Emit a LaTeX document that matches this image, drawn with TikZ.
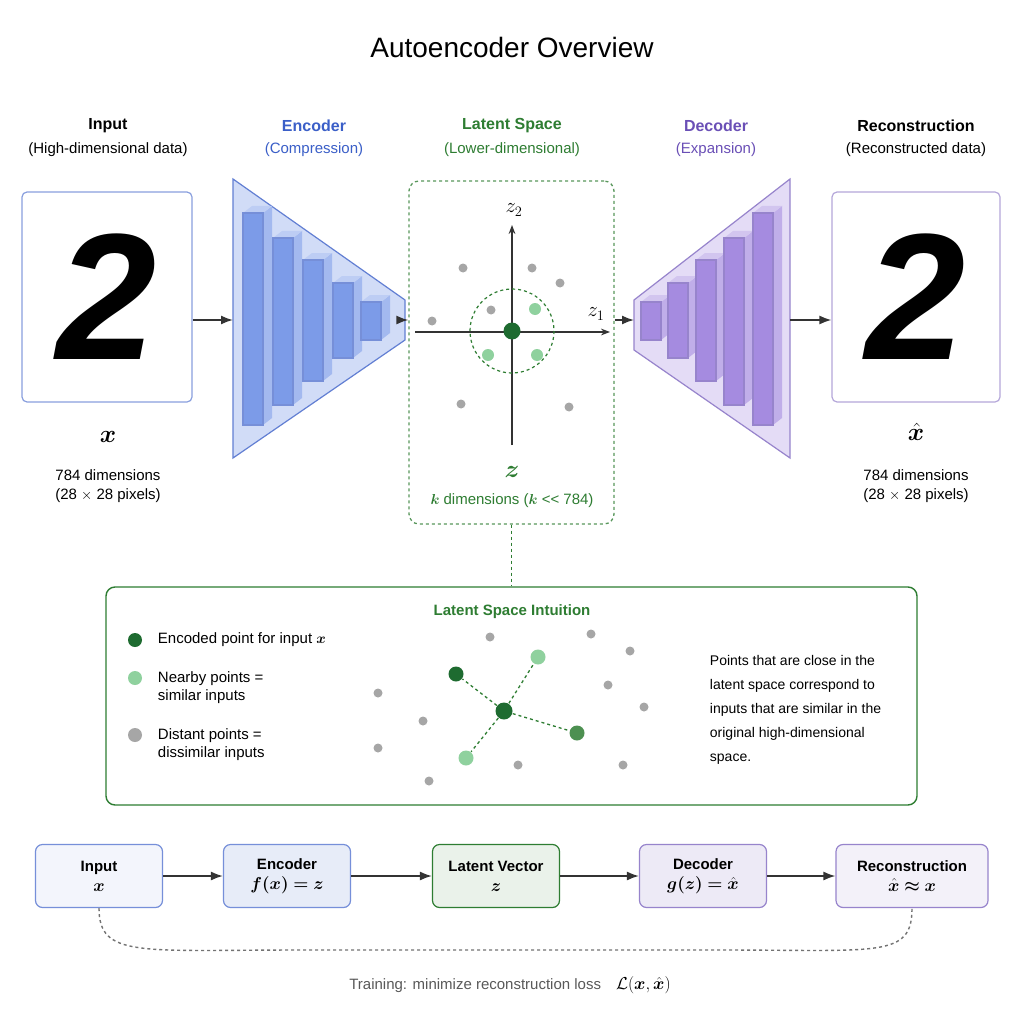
\documentclass[tikz,border=0pt]{standalone}
\usepackage{fontspec}
\setmainfont{Liberation Sans}
\usepackage{amsmath,amssymb,bm}
\usetikzlibrary{arrows.meta,positioning}
\definecolor{encblue}{HTML}{3B5FC8}
\definecolor{encfill}{HTML}{7C9BE8}
\definecolor{latgreen}{HTML}{2E7D32}
\definecolor{darkdot}{HTML}{1E6B30}
\definecolor{lightdot}{HTML}{8FD19E}
\definecolor{decpurple}{HTML}{6A4FB6}
\definecolor{decfill}{HTML}{A58BE0}
\newcommand{\mbig}{\fontsize{17}{20}\selectfont}
\tikzset{
  hdr/.style={font=\fontsize{16}{18}\selectfont\bfseries},
  sub/.style={font=\fontsize{15}{17}\selectfont},
  txt/.style={font=\fontsize{15}{19}\selectfont, align=center},
  arr/.style={-{Latex[length=12pt,width=9pt]}, line width=1.6pt, black!80},
  flowbox/.style={draw, rounded corners=7pt, minimum width=127pt, minimum height=63pt, align=center, font=\fontsize{15}{20}\selectfont, line width=1.2pt},
  dot/.style={circle, inner sep=0pt, minimum size=#1},
  dot/.default=9pt
}
\newcommand{\cube}[5]{% x, top, bottom, front colour, edge colour
  \fill[#4!70] (#1+20,#2) -- (#1+29,#2-7) -- (#1+29,#3-7) -- (#1+20,#3) -- cycle;
  \fill[#4!50] (#1,#2) -- (#1+9,#2-7) -- (#1+29,#2-7) -- (#1+20,#2) -- cycle;
  \draw[#5, fill=#4] (#1,#2) rectangle (#1+20,#3);
}
\begin{document}
\begin{tikzpicture}[x=1pt,y=-1pt,line width=1.2pt]
\useasboundingbox[fill=white] (0,0) rectangle (1024,1024);
\node at (512,47) {\fontsize{28}{30}\selectfont Autoencoder Overview};

% headers
\node[hdr] at (108,126) {Input};
\node[sub] at (108,150) {(High-dimensional data)};
\node[hdr, encblue] at (314,126) {Encoder};
\node[sub, encblue] at (314,150) {(Compression)};
\node[hdr, latgreen] at (512,126) {Latent Space};
\node[sub, latgreen] at (512,150) {(Lower-dimensional)};
\node[hdr, decpurple] at (716,126) {Decoder};
\node[sub, decpurple] at (716,150) {(Expansion)};
\node[hdr] at (916,126) {Reconstruction};
\node[sub] at (916,150) {(Reconstructed data)};

% input and output images
\node[draw=encblue!60, rounded corners=5pt, minimum width=170pt, minimum height=210pt,
  font=\fontsize{180}{180}\selectfont\bfseries\itshape] (img) at (107,297) {2};
\node[draw=decpurple!50, rounded corners=5pt, minimum width=168pt, minimum height=210pt,
  font=\fontsize{180}{180}\selectfont\bfseries\itshape] (rec) at (916,297) {2};
\node at (108,437) {\fontsize{24}{24}\selectfont$\bm{x}$};
\node[txt] at (108,486) {784 dimensions\\(28 $\times$ 28 pixels)};
\node at (916,432) {\fontsize{24}{24}\selectfont$\bm{\hat{x}}$};
\node[txt] at (916,486) {784 dimensions\\(28 $\times$ 28 pixels)};

% encoder
\draw[encblue!80, fill=encfill!35] (233,179) -- (405,300) -- (405,340) -- (233,458) -- cycle;
\coordinate (encin) at (233,320);
\coordinate (encout) at (405,320);
\foreach \x/\t/\b in {243/213/425, 273/238/405, 303/260/381, 333/283/358, 361/302/340}
  \cube{\x}{\t}{\b}{encfill}{encblue!70};

% decoder
\draw[decpurple!70, fill=decfill!30] (634,300) -- (790,179) -- (790,458) -- (634,350) -- cycle;
\coordinate (decin) at (634,320);
\coordinate (decout) at (790,320);
\foreach \x/\t/\b in {641/302/340, 668/283/358, 696/260/381, 724/238/405, 753/213/425}
  \cube{\x}{\t}{\b}{decfill}{decpurple!70};

% latent space
\node[draw=latgreen!80, dashed, line width=1.3pt, rounded corners=10pt, minimum width=205pt, minimum height=343pt] (lat) at (511.5,352.5) {};
\draw[-{Stealth[length=9pt]}, black!80, line width=1.4pt] (512,445) -- (512,225);
\draw[-{Stealth[length=9pt]}, black!80, line width=1.4pt] (415,332) -- (610,332);
\node at (514,210) {\fontsize{20}{20}\selectfont$z_2$};
\node at (596,314) {\fontsize{20}{20}\selectfont$z_1$};
\draw[latgreen, dashed] (512,331) circle (42);
\foreach \p in {(463,268),(532,268),(432,321),(461,404),(569,407),(491,310),(560,283)}
  \node[dot, fill=black!35] at \p {};
\foreach \p in {(535,309),(488,355),(537,355)}
  \node[dot=12pt, fill=lightdot] at \p {};
\node[dot=17pt, fill=darkdot] (c) at (512,331) {};
\node[latgreen] at (512,472) {\fontsize{24}{24}\selectfont$\bm{z}$};
\node[sub, latgreen] at (512,501) {$\bm{k}$ dimensions ($\bm{k}$ <{}< 784)};

\draw[arr] (img.east |- encin) -- (encin);
\draw[arr] (encout) -- (lat.west |- encout);
\draw[arr] (lat.east |- decin) -- (decin);
\draw[arr] (decout) -- (rec.west |- decout);

% intuition panel
\node[draw=latgreen, rounded corners=9pt, minimum width=811pt, minimum height=218pt, line width=1.4pt] (box) at (511.5,696) {};
\draw[latgreen, dashed, line width=1.3pt] (lat.south) -- (box.north);
\node[latgreen, font=\fontsize{15}{17}\selectfont\bfseries] at (512,612) {Latent Space Intuition};
\node[dot=14pt, fill=darkdot] at (135,640) {};
\node[dot=14pt, fill=lightdot] at (135,678) {};
\node[dot=14pt, fill=black!35] at (135,735) {};
\node[anchor=west, font=\fontsize{15}{18}\selectfont] at (154,640) {Encoded point for input $\bm{x}$};
\node[anchor=west, align=left, font=\fontsize{15}{18}\selectfont] at (154,688) {Nearby points =\\similar inputs};
\node[anchor=west, align=left, font=\fontsize{15}{18}\selectfont] at (154,745) {Distant points =\\dissimilar inputs};
\foreach \p in {(378,693),(423,721),(378,748),(429,781),(490,637),(591,634),(630,651),(644,707),(623,765),(518,765),(608,685)}
  \node[dot, fill=black!35] at \p {};
\node[dot=17pt, fill=darkdot] (m) at (504,711) {};
\node[dot=15pt, fill=darkdot] (n1) at (456,674) {};
\node[dot=15pt, fill=lightdot] (n2) at (538,657) {};
\node[dot=15pt, fill=lightdot] (n3) at (466,758) {};
\node[dot=15pt, fill=latgreen!85] (n4) at (577,733) {};
\foreach \n in {n1,n2,n3,n4}
  \draw[latgreen, dashed, line width=1.3pt] (m) -- (\n);
\node[anchor=west, align=left, font=\fontsize{14}{24}\selectfont] at (706,710)
  {Points that are close in the\\latent space correspond to\\inputs that are similar in the\\original high-dimensional\\space.};

% bottom flow
\node[flowbox, draw=encblue!70, fill=encblue!6] (f1) at (99,876) {\textbf{Input}\\\mbig$\bm{x}$};
\node[flowbox, draw=encblue!70, fill=encblue!12] (f2) at (287,876) {\textbf{Encoder}\\\mbig$\bm{f(x)=z}$};
\node[flowbox, draw=latgreen, fill=latgreen!10] (f3) at (496,876) {\textbf{Latent Vector}\\\mbig$\bm{z}$};
\node[flowbox, draw=decpurple!70, fill=decpurple!12] (f4) at (703,876) {\textbf{Decoder}\\\mbig$\bm{g(z)=\hat{x}}$};
\node[flowbox, draw=decpurple!70, fill=decpurple!8, minimum width=152pt] (f5) at (912,876) {\textbf{Reconstruction}\\\mbig$\bm{\hat{x}\approx x}$};
\draw[arr] (f1) -- (f2);
\draw[arr] (f2) -- (f3);
\draw[arr] (f3) -- (f4);
\draw[arr] (f4) -- (f5);
\draw[dashed, line width=1.4pt, black!55] (f1.south) .. controls (99,958) and (140,950) .. (300,950)
  -- (720,950) .. controls (880,950) and (912,958) .. (f5.south);
\node[font=\fontsize{15}{17}\selectfont, text=black!65] at (510,985)
  {Training: minimize reconstruction loss\quad {\color{black}\fontsize{18}{20}\selectfont$\mathcal{L}(\bm{x},\bm{\hat{x}})$}};
\end{tikzpicture}
\end{document}
